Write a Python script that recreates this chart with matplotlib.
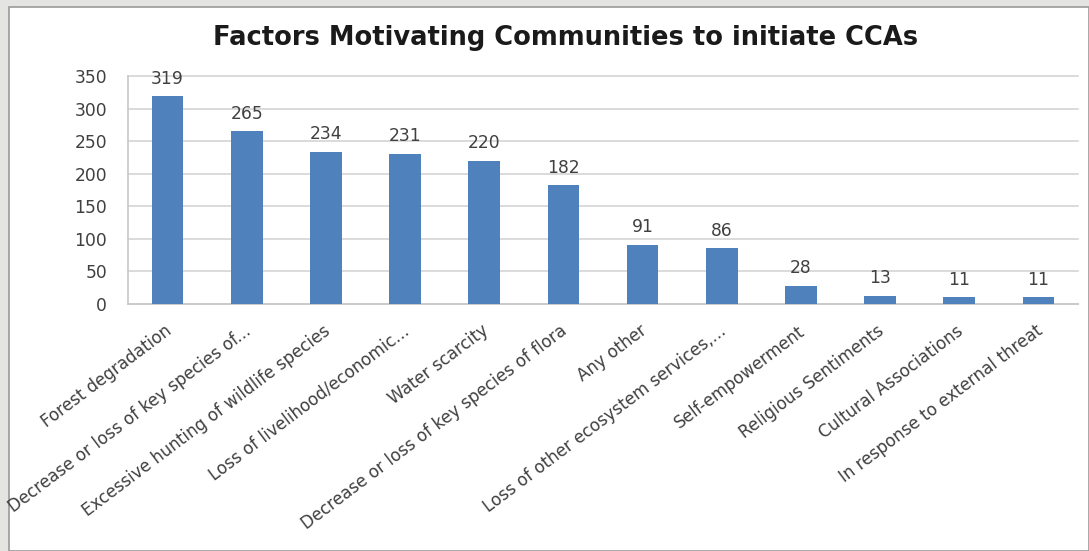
import matplotlib.pyplot as plt
from matplotlib.patches import Rectangle
from matplotlib.transforms import ScaledTranslation

plt.rcParams["font.family"] = ["DejaVu Sans"]

categories = [
    "Forest degradation",
    "Decrease or loss of key species of...",
    "Excessive hunting of wildlife species",
    "Loss of livelihood/economic...",
    "Water scarcity",
    "Decrease or loss of key species of flora",
    "Any other",
    "Loss of other ecosystem services,...",
    "Self-empowerment",
    "Religious Sentiments",
    "Cultural Associations",
    "In response to external threat",
]
counts = [319, 265, 234, 231, 220, 182, 91, 86, 28, 13, 11, 11]
y_ticks = [0, 50, 100, 150, 200, 250, 300, 350]

W, H = 1089, 551
fig = plt.figure(figsize=(W / 100, H / 100), dpi=100)
fig.patch.set_facecolor("#e4e4e2")

# white chart area with a thin grey frame, like the pasted Excel chart
fig.add_artist(Rectangle((9 / W, 0), 1 - 9 / W, 1 - 7 / H, transform=fig.transFigure,
                         facecolor="white", edgecolor="#9a9a9a", linewidth=1.2, zorder=0))

ax = fig.add_axes([128 / W, 1 - 304 / H, (1078 - 128) / W, (304 - 76) / H])
ax.set_facecolor("none")

x = range(len(categories))
ax.bar(x, counts, width=0.4, color="#4f81bd", zorder=3)

for xi, v in zip(x, counts):
    ax.annotate(str(v), (xi, v), xytext=(0, 6), textcoords="offset points",
                ha="center", va="bottom", fontsize=12.3, color="#404040")

ax.set_xlim(-0.5, len(categories) - 0.5)
ax.set_ylim(0, 350)
ax.set_yticks(y_ticks)
ax.tick_params(axis="y", length=0, pad=15, labelsize=12.3, labelcolor="#404040")
ax.grid(axis="y", color="#d4d4d4", linewidth=1.2, zorder=0)
for gl in ax.get_ygridlines():
    gl.set_clip_on(False)

ax.set_xticks(list(x))
ax.set_xticklabels(categories, rotation=37, ha="right", va="center",
                   rotation_mode="anchor", fontsize=12.1, color="#404040")
ax.tick_params(axis="x", length=0, pad=0)
shift = ScaledTranslation(2 / 100, -25 / 100, fig.dpi_scale_trans)
for lab in ax.get_xticklabels():
    lab.set_transform(lab.get_transform() + shift)

for side in ["top", "right"]:
    ax.spines[side].set_visible(False)
ax.spines["left"].set_color("#c8c8c8")
ax.spines["bottom"].set_color("#c8c8c8")
ax.spines["left"].set_linewidth(1.2)
ax.spines["bottom"].set_linewidth(1.2)

fig.text(566 / W, 1 - 38 / H, "Factors Motivating Communities to initiate CCAs",
         ha="center", va="center", fontsize=18.5, fontweight="bold", color="#1a1a1a")

fig.savefig("out.png", dpi=100)
